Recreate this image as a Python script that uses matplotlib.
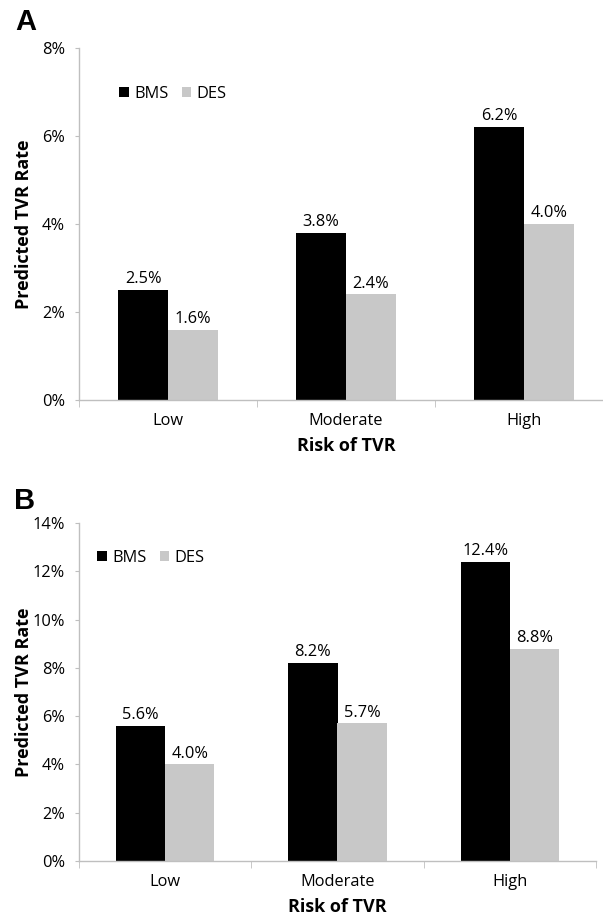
import matplotlib.pyplot as plt
import numpy as np

plt.rcParams['font.family'] = ['Open Sans', 'DejaVu Sans']

categories = ["Low", "Moderate", "High"]
bms_a = [2.5, 3.8, 6.2]
des_a = [1.6, 2.4, 4.0]
bms_b = [5.6, 8.2, 12.4]
des_b = [4.0, 5.7, 8.8]

W, H = 603, 917
FS = 11.8
fig = plt.figure(figsize=(W / 100, H / 100), dpi=100)
# panel A axis runs off the right edge of the image, as in the original
ax_a = fig.add_axes([79 / W, 1 - 400 / H, 534 / W, 352 / H])
ax_b = fig.add_axes([79 / W, 1 - 861 / H, 517 / W, 338 / H])

GRAY = "#bfbfbf"


def draw(ax, bms, des, ymax, leg_xy, w):
    x = np.arange(len(categories))
    b1 = ax.bar(x - w / 2, bms, w, color="black", label="BMS")
    b2 = ax.bar(x + w / 2, des, w, color="#c8c8c8", label="DES")
    for bars, vals in ((b1, bms), (b2, des)):
        for r, v in zip(bars, vals):
            ax.annotate(f"{v:.1f}%", (r.get_x() + r.get_width() / 2, v),
                        xytext=(0, 2), textcoords="offset points",
                        ha="center", va="bottom", fontsize=FS)
    ax.set_xlim(-0.5, len(categories) - 0.5)
    ax.set_ylim(0, ymax)
    yt = np.arange(0, ymax + 0.01, 2)
    ax.set_yticks(yt)
    ax.set_yticklabels([f"{int(t)}%" for t in yt], fontsize=FS)
    ax.set_xticks(x)
    ax.set_xticklabels(categories, fontsize=FS)
    ax.set_xticks(np.arange(-0.5, len(categories), 1), minor=True)
    ax.tick_params(axis="x", which="major", length=0, pad=9.5)
    ax.tick_params(axis="x", which="minor", length=5, color=GRAY)
    ax.tick_params(axis="y", length=3, color=GRAY, pad=7)
    for s in ("top", "right"):
        ax.spines[s].set_visible(False)
    for s in ("left", "bottom"):
        ax.spines[s].set_color(GRAY)
        ax.spines[s].set_linewidth(1)
    ax.set_xlabel("Risk of TVR", fontsize=13, fontweight="bold", labelpad=5.5)
    ax.set_ylabel("Predicted TVR Rate", fontsize=13, fontweight="bold")
    ax.yaxis.set_label_coords(33 / W, 0.5, transform=fig.transFigure)
    # keep the vertical centre on the axes
    ax.yaxis.label.set_y(ax.get_position().y0 + ax.get_position().height / 2)
    fig.legend(handles=[b1, b2], loc="center left",
               bbox_to_anchor=(leg_xy[0] / W, 1 - leg_xy[1] / H),
               ncol=2, frameon=False, fontsize=FS, borderpad=0, borderaxespad=0,
               handlelength=0.6, handleheight=0.6, handletextpad=0.33,
               columnspacing=0.8)


draw(ax_a, bms_a, des_a, 8, (119, 94), 0.28)
draw(ax_b, bms_b, des_b, 14, (97, 558), 0.285)

fig.text(15 / W, 1 - 22 / H, "A", fontsize=21, fontweight="bold",
         family="Liberation Sans", va="center")
fig.text(14 / W, 1 - 501 / H, "B", fontsize=21, fontweight="bold",
         family="Liberation Sans", va="center")

fig.savefig("out.png", dpi=100)
